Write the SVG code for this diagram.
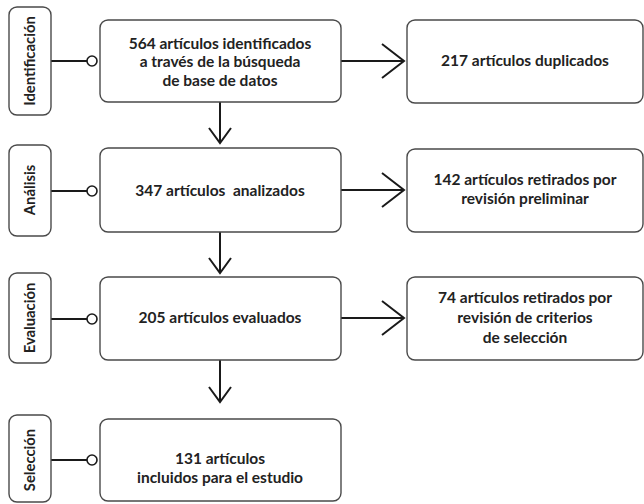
<svg xmlns="http://www.w3.org/2000/svg" width="644" height="504" viewBox="0 0 644 504">
<style>
.box{fill:#fff;stroke:#4a4a4a;stroke-width:1.4}
.t{font-family:Lato,"Liberation Sans",sans-serif;font-weight:700;font-size:15.5px;fill:#222;text-anchor:middle}
.lt{font-size:14.8px}
.ln{stroke:#1a1a1a;stroke-width:2;fill:none}
.ch{stroke:#1a1a1a;stroke-width:2;fill:none;stroke-linejoin:miter}
.dot{fill:#fff;stroke:#1a1a1a;stroke-width:1.6}
</style>
<rect width="644" height="504" fill="#fff"/>
<g id="connectors">
<line class="ln" x1="51" y1="61" x2="87" y2="61"/>
<circle class="dot" cx="92" cy="61" r="5"/>
<line class="ln" x1="51" y1="191" x2="87" y2="191"/>
<circle class="dot" cx="92" cy="191" r="5"/>
<line class="ln" x1="51" y1="319" x2="87" y2="319"/>
<circle class="dot" cx="92" cy="319" r="5"/>
<line class="ln" x1="51" y1="460" x2="87" y2="460"/>
<circle class="dot" cx="92" cy="460" r="5"/>
<line class="ln" x1="341" y1="61" x2="404" y2="61"/>
<polyline class="ch" points="382,44 404,61 382,78"/>
<line class="ln" x1="341" y1="190" x2="404" y2="190"/>
<polyline class="ch" points="382,173 404,190 382,207"/>
<line class="ln" x1="341" y1="318" x2="404" y2="318"/>
<polyline class="ch" points="382,301 404,318 382,335"/>
<line class="ln" x1="220" y1="102" x2="220" y2="143"/>
<polyline class="ch" points="209,128 220,143 231,128"/>
<line class="ln" x1="220" y1="232" x2="220" y2="273"/>
<polyline class="ch" points="209,258 220,273 231,258"/>
<line class="ln" x1="220" y1="360" x2="220" y2="402"/>
<polyline class="ch" points="209,387 220,402 231,387"/>
</g>
<g id="label-identificacion">
<rect class="box" x="9" y="7" width="42" height="108" rx="8"/>
<text class="t lt" transform="translate(35,61) rotate(-90)">Identificación</text>
</g>
<g id="label-analisis">
<rect class="box" x="9" y="145" width="42" height="91" rx="8"/>
<text class="t lt" transform="translate(35,190) rotate(-90)">Análisis</text>
</g>
<g id="label-evaluacion">
<rect class="box" x="9" y="273" width="42" height="90" rx="8"/>
<text class="t lt" transform="translate(35,318) rotate(-90)">Evaluación</text>
</g>
<g id="label-seleccion">
<rect class="box" x="9" y="415" width="42" height="87" rx="8"/>
<text class="t lt" transform="translate(35,460) rotate(-90)">Selección</text>
</g>
<g id="node-identificados">
<rect class="box" x="100" y="20" width="241" height="82" rx="8"/>
<text class="t" x="220" y="49">564 artículos identificados</text>
<text class="t" x="220" y="67">a través de la búsqueda</text>
<text class="t" x="220" y="86">de base de datos</text>
</g>
<g id="node-duplicados">
<rect class="box" x="407" y="20" width="236" height="83" rx="8"/>
<text class="t" x="525" y="66">217 artículos duplicados</text>
</g>
<g id="node-analizados">
<rect class="box" x="100" y="148" width="241" height="84" rx="8"/>
<text class="t" x="220" y="196" xml:space="preserve">347 artículos  analizados</text>
</g>
<g id="node-retirados1">
<rect class="box" x="407" y="149" width="236" height="83" rx="8"/>
<text class="t" x="525" y="185">142 artículos retirados por</text>
<text class="t" x="525" y="204">revisión preliminar</text>
</g>
<g id="node-evaluados">
<rect class="box" x="100" y="277" width="241" height="83" rx="8"/>
<text class="t" x="220" y="323">205 artículos evaluados</text>
</g>
<g id="node-retirados2">
<rect class="box" x="407" y="277" width="236" height="83" rx="8"/>
<text class="t" x="525" y="303">74 artículos retirados por</text>
<text class="t" x="525" y="323">revisión de criterios</text>
<text class="t" x="525" y="343">de selección</text>
</g>
<g id="node-incluidos">
<rect class="box" x="100" y="419" width="241" height="82" rx="8"/>
<text class="t" x="220" y="464">131 artículos</text>
<text class="t" x="220" y="483">incluidos para el estudio</text>
</g>
</svg>
